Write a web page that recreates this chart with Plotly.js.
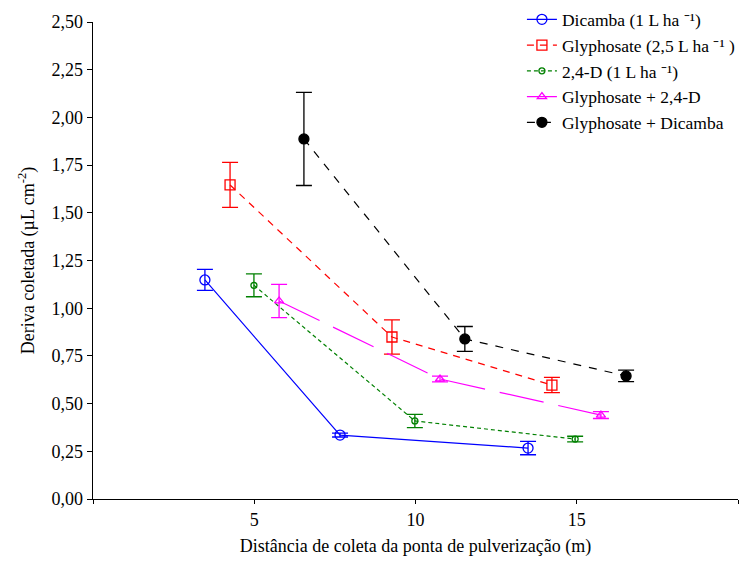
<!DOCTYPE html>
<html>
<head>
<meta charset="utf-8">
<script src="https://cdn.plot.ly/plotly-3.0.1.min.js"></script>
<style>html,body{margin:0;padding:0;background:#fff;}#chart{width:752px;height:561px;}</style>
</head>
<body>
<div id="chart"></div>
<script>
// Data
const seriesNames = [
  'Dicamba (1 L ha \u207B\u00B9)',
  'Glyphosate (2,5 L ha \u207B\u00B9 )',
  '2,4-D (1 L ha \u207B\u00B9)',
  'Glyphosate + 2,4-D',
  'Glyphosate + Dicamba'
];
const dicambaX = [3.47, 7.66, 13.49];
const dicambaY = [1.148, 0.335, 0.267];
const dicambaErr = [0.055, 0.01, 0.035];

const glyphosateX = [4.25, 9.27, 14.23];
const glyphosateY = [1.646, 0.849, 0.597];
const glyphosateErr = [0.118, 0.09, 0.04];

const d24X = [4.99, 9.98, 14.95];
const d24Y = [1.12, 0.409, 0.314];
const d24Err = [0.06, 0.035, 0.015];

const glyD24X = [5.77, 10.76, 15.75];
const glyD24Y = [1.038, 0.629, 0.44];
const glyD24Err = [0.087, 0.015, 0.018];

const glyDicX = [6.54, 11.53, 16.53];
const glyDicY = [1.887, 0.839, 0.645];
const glyDicErr = [0.244, 0.065, 0.03];

const xTickVals = [0, 5, 10, 15, 20];
const xTickText = ['', '5', '10', '15', ''];
const yTickVals = [0, 0.25, 0.5, 0.75, 1, 1.25, 1.5, 1.75, 2, 2.25, 2.5];

function mk(x, y, err, name, color, dash, symbol, size) {
  return {
    x: x, y: y, name: name, type: 'scatter', mode: 'lines+markers',
    line: {color: color, width: 1.2, dash: dash},
    marker: {symbol: symbol, size: size, color: color, line: {color: color, width: 1.3}},
    error_y: {type: 'data', array: err, visible: true, color: color, thickness: 1.3, width: 8}
  };
}

const data = [
  mk(dicambaX, dicambaY, dicambaErr, seriesNames[0], '#0000ff', 'solid', 'circle-open', 10),
  mk(glyphosateX, glyphosateY, glyphosateErr, seriesNames[1], '#ff0000', '7px,6px', 'square-open', 10),
  mk(d24X, d24Y, d24Err, seriesNames[2], '#008000', '4px,3px', 'circle-open', 6),
  mk(glyD24X, glyD24Y, glyD24Err, seriesNames[3], '#ff00ff', '45px,15px', 'triangle-up-open', 8),
  mk(glyDicX, glyDicY, glyDicErr, seriesNames[4], '#000000', '8px,8px', 'circle', 10)
];

const font = {family: '"Liberation Serif", "Times New Roman", serif', color: '#000'};

const layout = {
  width: 752, height: 561,
  margin: {l: 93, r: 14, t: 22, b: 62, autoexpand: false},
  paper_bgcolor: '#fff', plot_bgcolor: '#fff',
  separators: ',.',
  font: Object.assign({size: 18}, font),
  showlegend: true,
  legend: {
    x: 0.665, y: 1.043, xanchor: 'left', yanchor: 'top',
    bgcolor: 'rgba(0,0,0,0)', borderwidth: 0,
    font: Object.assign({size: 17.5}, font),
    tracegroupgap: 0, itemwidth: 30
  },
  xaxis: {
    range: [0, 20], tickmode: 'array', tickvals: xTickVals, ticktext: xTickText,
    showgrid: false, zeroline: false, showline: true, linecolor: '#000', linewidth: 1.3,
    ticks: 'outside', ticklen: 4, tickcolor: '#000',
    tickfont: Object.assign({size: 18}, font),
    title: {text: 'Distância de coleta da ponta de pulverização (m)', font: Object.assign({size: 18}, font), standoff: 10}
  },
  yaxis: {
    range: [0, 2.5], tickmode: 'array', tickvals: yTickVals, tickformat: '.2f',
    showgrid: false, zeroline: false, showline: true, linecolor: '#000', linewidth: 1.3,
    ticks: 'outside', ticklen: 5, tickcolor: '#000',
    tickfont: Object.assign({size: 18}, font),
    title: {text: 'Deriva coletada (µL cm<sup>-2</sup>)', font: Object.assign({size: 18}, font), standoff: 12}
  }
};

Plotly.newPlot('chart', data, layout, {displayModeBar: false, staticPlot: true});
</script>
</body>
</html>
